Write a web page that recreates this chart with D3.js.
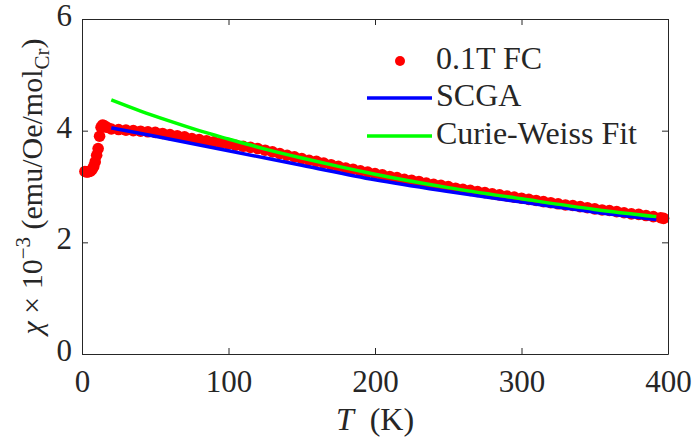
<!DOCTYPE html>
<html>
<head>
<meta charset="utf-8">
<script src="https://cdn.jsdelivr.net/npm/d3@7"></script>
<style>
  body { margin: 0; background: #fff; }
  text { font-family: "Liberation Serif", "DejaVu Serif", serif; fill: #262626; }
</style>
</head>
<body>
<div id="my_viz"></div>
<script>
// measured data, 0.1T field cooled
const fcT = [2, 3, 4, 5, 6, 7, 8, 9, 10, 11, 12, 13, 14, 15, 17,
    20, 25, 30, 35, 40, 45, 50, 55, 60, 65, 70, 75, 80, 85, 90, 95, 100,
    105, 110, 115, 120, 125, 130, 135, 140, 145, 150, 155, 160, 165, 170, 175, 180,
    185, 190, 195, 200, 205, 210, 215, 220, 225, 230, 235, 240, 245, 250,
    255, 260, 265, 270, 275, 280, 285, 290, 295, 300, 305, 310, 315, 320,
    325, 330, 335, 340, 345, 350, 355, 360, 365, 370, 375, 380, 385, 390, 395, 397];
const fcChi = [3.27, 3.26, 3.26, 3.27, 3.28, 3.31, 3.36, 3.44, 3.56, 3.68, 3.90, 4.06, 4.10, 4.09, 4.06,
    4.03, 4.02, 4.01, 4.00, 3.99, 3.98, 3.97, 3.95, 3.93, 3.91, 3.89, 3.86, 3.84, 3.82, 3.80, 3.78, 3.76,
    3.74, 3.72, 3.70, 3.68, 3.65, 3.62, 3.59, 3.56, 3.53, 3.50, 3.47, 3.45, 3.42, 3.39, 3.36, 3.33,
    3.31, 3.28, 3.26, 3.23, 3.21, 3.18, 3.16, 3.13, 3.11, 3.09, 3.06, 3.04, 3.02, 3.00,
    2.97, 2.95, 2.93, 2.91, 2.89, 2.87, 2.85, 2.83, 2.81, 2.79, 2.77, 2.75, 2.73, 2.71,
    2.69, 2.67, 2.66, 2.64, 2.62, 2.60, 2.58, 2.57, 2.55, 2.53, 2.51, 2.50, 2.48, 2.46, 2.44, 2.43];

// SCGA curve
const scgaT = [20, 50, 100, 150, 200, 250, 300, 350, 392];
const scgaChi = [4.05, 3.90, 3.64, 3.38, 3.12, 2.91, 2.72, 2.54, 2.41];

// Curie-Weiss fit
const cwT = [20, 40, 60, 80, 100, 125, 150, 175, 200, 250, 300, 350, 392];
const cwChi = [4.55, 4.35, 4.17, 4.00, 3.85, 3.67, 3.51, 3.36, 3.22, 2.98, 2.78, 2.59, 2.46];

const xTicks = [0, 100, 200, 300, 400];
const yTicks = [0, 2, 4, 6];
const legendNames = ['0.1T FC', 'SCGA', 'Curie-Weiss Fit'];

const width = 693;
const height = 440;
const margin = { top: 19, right: 25, bottom: 86, left: 82 };
const axisColor = '#262626';

const svg = d3.select('#my_viz')
    .append('svg')
    .attr('width', width)
    .attr('height', height);

const x = d3.scaleLinear()
    .domain([0, 400])
    .range([margin.left, width - margin.right]);

const y = d3.scaleLinear()
    .domain([0, 6])
    .range([height - margin.bottom, margin.top]);

// data points
svg.append('g')
    .attr('fill', '#ff0000')
    .selectAll('circle')
    .data(fcT.map((t, i) => [t, fcChi[i]]))
    .join('circle')
    .attr('cx', d => x(d[0]))
    .attr('cy', d => y(d[1]))
    .attr('r', 5.8);

const line = d3.line()
    .x(d => x(d[0]))
    .y(d => y(d[1]))
    .curve(d3.curveMonotoneX);

svg.append('path')
    .datum(scgaT.map((t, i) => [t, scgaChi[i]]))
    .attr('fill', 'none')
    .attr('stroke', '#0000ff')
    .attr('stroke-width', 3.5)
    .attr('d', line);

svg.append('path')
    .datum(cwT.map((t, i) => [t, cwChi[i]]))
    .attr('fill', 'none')
    .attr('stroke', '#00ff00')
    .attr('stroke-width', 3.5)
    .attr('d', line);

function styleAxis(g) {
    g.attr('color', axisColor)
        .attr('font-size', '31px')
        .attr('font-family', '"Liberation Serif", serif');
    g.select('.domain').attr('stroke-width', 1);
    g.selectAll('.tick line').attr('stroke-width', 1);
}

svg.append('g')
    .attr('transform', `translate(0,${height - margin.bottom})`)
    .call(d3.axisBottom(x).tickValues(xTicks).tickSizeInner(-6).tickSizeOuter(0).tickPadding(16))
    .call(styleAxis);

svg.append('g')
    .attr('transform', `translate(0,${margin.top})`)
    .call(d3.axisTop(x).tickValues(xTicks).tickSizeInner(-6).tickSizeOuter(0).tickFormat(''))
    .call(styleAxis);

svg.append('g')
    .attr('transform', `translate(${margin.left},0)`)
    .call(d3.axisLeft(y).tickValues(yTicks).tickFormat(d3.format('d'))
        .tickSizeInner(-6).tickSizeOuter(0).tickPadding(10))
    .call(styleAxis)
    .selectAll('.tick text').attr('dy', '0.21em');

svg.append('g')
    .attr('transform', `translate(${width - margin.right},0)`)
    .call(d3.axisRight(y).tickValues(yTicks).tickSizeInner(-6).tickSizeOuter(0).tickFormat(''))
    .call(styleAxis);

// axis titles
const xTitle = svg.append('text')
    .attr('x', (margin.left + width - margin.right) / 2)
    .attr('y', 430)
    .attr('text-anchor', 'middle')
    .attr('font-size', '32px');
xTitle.append('tspan').attr('font-style', 'italic').text('T');
xTitle.append('tspan').text('\u00a0\u00a0(K)');

const yTitle = svg.append('text')
    .attr('transform', `translate(42,${(margin.top + height - margin.bottom) / 2}) rotate(-90)`)
    .attr('text-anchor', 'middle')
    .attr('font-size', '30px');
yTitle.append('tspan').attr('font-style', 'italic').text('\u03c7');
yTitle.append('tspan').text('\u00a0\u00d7\u00a010');
yTitle.append('tspan').attr('font-size', '21px').attr('dy', '-12').text('\u22123');
yTitle.append('tspan').attr('dy', '12').text('\u00a0(emu/Oe/mol');
yTitle.append('tspan').attr('font-size', '21px').attr('dy', '7').text('Cr');
yTitle.append('tspan').attr('dy', '-7').text(')');

// legend
const legend = svg.append('g');
const rowY = [61, 98, 136];

legend.append('circle')
    .attr('cx', 400)
    .attr('cy', rowY[0])
    .attr('r', 5)
    .attr('fill', '#ff0000');

legend.selectAll('line')
    .data([['#0000ff', rowY[1]], ['#00ff00', rowY[2]]])
    .join('line')
    .attr('x1', 367)
    .attr('x2', 432)
    .attr('y1', d => d[1])
    .attr('y2', d => d[1])
    .attr('stroke', d => d[0])
    .attr('stroke-width', 3.5);

legend.selectAll('text')
    .data(legendNames)
    .join('text')
    .attr('x', 436)
    .attr('y', (d, i) => rowY[i] + 8)
    .attr('font-size', '32px')
    .text(d => d);
</script>
</body>
</html>
